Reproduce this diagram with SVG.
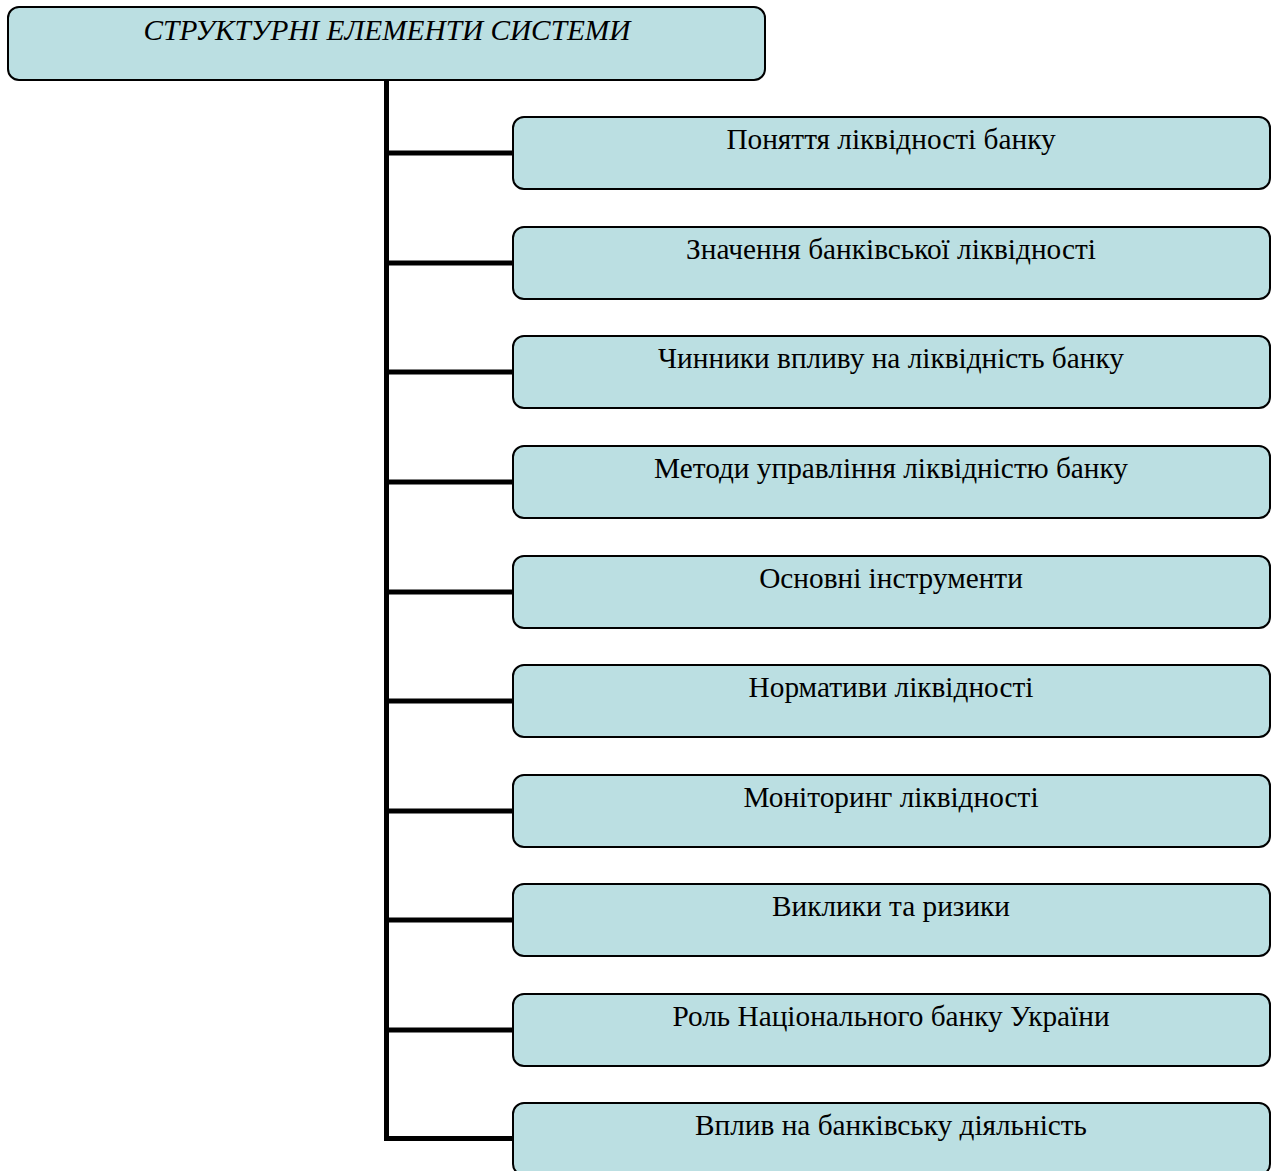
<svg xmlns="http://www.w3.org/2000/svg" width="1278" height="1171" viewBox="0 0 1278 1171">
<style>
.box{fill:#bbdfe2;stroke:#000;stroke-width:2}
.t{font-family:"Liberation Serif","Times New Roman",serif;font-size:29.3px;fill:#000;text-anchor:middle}
.ti{font-style:italic}
.c{stroke:#000;stroke-width:5;fill:none}
</style>
<rect width="1278" height="1171" fill="#fff"/>
<g id="connectors">
<path class="c" d="M386.5 80 V1138.5 H513"/>
<path class="c" d="M386.5 153 H513 M386.5 263 H513 M386.5 372 H513 M386.5 482 H513 M386.5 592 H513 M386.5 701 H513 M386.5 811 H513 M386.5 920 H513 M386.5 1030 H513"/>
</g>
<g id="root"><rect class="box" x="8" y="7" width="757" height="73" rx="11"/><text class="t ti" x="387" y="39.5">СТРУКТУРНІ ЕЛЕМЕНТИ СИСТЕМИ</text></g>
<g id="n1"><rect class="box" x="513" y="117" width="757" height="72" rx="11"/><text class="t" x="891" y="148.5">Поняття ліквідності банку</text></g>
<g id="n2"><rect class="box" x="513" y="227" width="757" height="72" rx="11"/><text class="t" x="891" y="258.5">Значення банківської ліквідності</text></g>
<g id="n3"><rect class="box" x="513" y="336" width="757" height="72" rx="11"/><text class="t" x="891" y="367.5">Чинники впливу на ліквідність банку</text></g>
<g id="n4"><rect class="box" x="513" y="446" width="757" height="72" rx="11"/><text class="t" x="891" y="477.5">Методи управління ліквідністю банку</text></g>
<g id="n5"><rect class="box" x="513" y="556" width="757" height="72" rx="11"/><text class="t" x="891" y="587.5">Основні інструменти</text></g>
<g id="n6"><rect class="box" x="513" y="665" width="757" height="72" rx="11"/><text class="t" x="891" y="696.5">Нормативи ліквідності</text></g>
<g id="n7"><rect class="box" x="513" y="775" width="757" height="72" rx="11"/><text class="t" x="891" y="806.5">Моніторинг ліквідності</text></g>
<g id="n8"><rect class="box" x="513" y="884" width="757" height="72" rx="11"/><text class="t" x="891" y="915.5">Виклики та ризики</text></g>
<g id="n9"><rect class="box" x="513" y="994" width="757" height="72" rx="11"/><text class="t" x="891" y="1025.5">Роль Національного банку України</text></g>
<g id="n10"><rect class="box" x="513" y="1103" width="757" height="72" rx="11"/><text class="t" x="891" y="1134.5">Вплив на банківську діяльність</text></g>
</svg>
